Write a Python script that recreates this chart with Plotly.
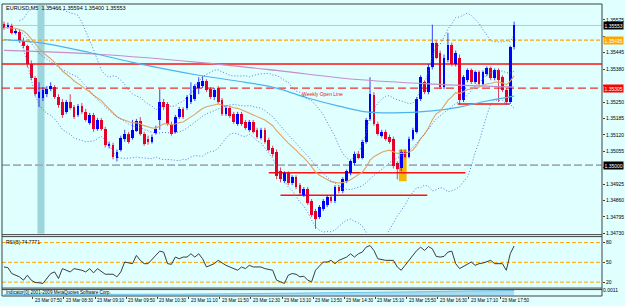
import numpy as np
import pandas as pd
import plotly.graph_objects as go

# ---------------- data ----------------
header_text = "EURUSD,M5  1.35466 1.35594 1.35400 1.35553"
rsi_text = "RSI(5) 74.7771"
sub_text = "Indicator(0) 2001-2009 MetaQuotes Software Corp."

opens = [
1.35560,1.35548,1.35552,1.35524,1.35528,1.35493,1.35470,1.35399,1.35344,1.35266,
1.35266,1.35281,1.35301,1.35309,1.35270,1.35250,1.35211,1.35250,1.35230,1.35199,
1.35234,1.35211,1.35168,1.35199,1.35144,1.35179,1.35144,1.35074,1.35081,1.35027,
1.35062,1.35105,1.35125,1.35109,1.35136,1.35176,1.35125,1.35105,1.35093,1.35128,
1.35179,1.35250,1.35242,1.35164,1.35132,1.35191,1.35223,1.35227,1.35250,1.35262,
1.35305,1.35313,1.35332,1.35301,1.35270,1.35305,1.35258,1.35203,1.35227,1.35203,
1.35164,1.35203,1.35172,1.35140,1.35172,1.35140,1.35109,1.35140,1.35101,1.35070,
1.35054,1.34976,1.34936,1.34968,1.34929,1.34952,1.34921,1.34881,1.34905,1.34858,
1.34819,1.34795,1.34827,1.34842,1.34874,1.34858,1.34913,1.34897,1.34936,1.34968,
1.35007,1.35046,1.35030,1.35093,1.35183,1.35277,1.35164,1.35117,1.35132,1.35113,
1.35105,1.35007,1.34987,1.35054,1.35034,1.35105,1.35132,1.35262,1.35328,1.35289,
1.35387,1.35485,1.35446,1.35309,1.35415,1.35477,1.35399,1.35426,1.35258,1.35336,
1.35375,1.35328,1.35368,1.35321,1.35360,1.35383,1.35344,1.35375,1.35348,1.35297,
1.35250,1.35466]

highs = [
1.35568,1.35564,1.35560,1.35540,1.35536,1.35505,1.35477,1.35415,1.35352,1.35328,
1.35309,1.35313,1.35328,1.35317,1.35281,1.35262,1.35258,1.35281,1.35238,1.35242,
1.35246,1.35223,1.35207,1.35207,1.35187,1.35187,1.35152,1.35093,1.35089,1.35062,
1.35117,1.35140,1.35132,1.35179,1.35183,1.35191,1.35132,1.35117,1.35121,1.35156,
1.35301,1.35262,1.35250,1.35172,1.35199,1.35230,1.35230,1.35277,1.35328,1.35321,
1.35348,1.35352,1.35340,1.35309,1.35305,1.35313,1.35266,1.35234,1.35234,1.35211,
1.35211,1.35211,1.35179,1.35179,1.35179,1.35148,1.35148,1.35148,1.35109,1.35077,
1.35062,1.34991,1.34976,1.34976,1.34960,1.34960,1.34929,1.34913,1.34913,1.34866,
1.34827,1.34842,1.34866,1.34881,1.34881,1.34921,1.34921,1.34952,1.34983,1.35023,
1.35054,1.35054,1.35101,1.35187,1.35348,1.35289,1.35172,1.35140,1.35140,1.35121,
1.35113,1.35015,1.35062,1.35062,1.35113,1.35148,1.35270,1.35356,1.35336,1.35399,
1.35556,1.35493,1.35454,1.35438,1.35524,1.35485,1.35454,1.35438,1.35356,1.35383,
1.35383,1.35375,1.35375,1.35375,1.35391,1.35391,1.35383,1.35383,1.35356,1.35305,
1.35473,1.35568]

lows = [
1.35536,1.35540,1.35517,1.35517,1.35485,1.35462,1.35387,1.35336,1.35273,1.35230,
1.35254,1.35270,1.35293,1.35262,1.35227,1.35187,1.35203,1.35219,1.35183,1.35191,
1.35203,1.35172,1.35160,1.35132,1.35136,1.35136,1.35070,1.35066,1.35023,1.35015,
1.35054,1.35093,1.35085,1.35101,1.35132,1.35117,1.35077,1.35081,1.35085,1.35121,
1.35140,1.35219,1.35156,1.35117,1.35125,1.35183,1.35183,1.35219,1.35242,1.35254,
1.35281,1.35305,1.35289,1.35262,1.35258,1.35242,1.35195,1.35195,1.35187,1.35164,
1.35156,1.35156,1.35140,1.35132,1.35125,1.35105,1.35101,1.35085,1.35054,1.35034,
1.34944,1.34932,1.34929,1.34921,1.34921,1.34905,1.34878,1.34874,1.34842,1.34795,
1.34748,1.34787,1.34819,1.34834,1.34850,1.34850,1.34889,1.34889,1.34929,1.34960,
1.34999,1.35023,1.35023,1.35085,1.35176,1.35156,1.35117,1.35109,1.35097,1.35085,
1.34987,1.34944,1.34976,1.35027,1.35027,1.35097,1.35125,1.35254,1.35281,1.35281,
1.35379,1.35419,1.35301,1.35301,1.35407,1.35391,1.35391,1.35242,1.35250,1.35328,
1.35321,1.35321,1.35313,1.35313,1.35352,1.35336,1.35336,1.35250,1.35289,1.35238,
1.35242,1.35458]

closes = [
1.35544,1.35556,1.35524,1.35532,1.35493,1.35470,1.35399,1.35344,1.35281,1.35289,
1.35297,1.35301,1.35313,1.35270,1.35238,1.35199,1.35250,1.35227,1.35191,1.35234,
1.35211,1.35179,1.35199,1.35144,1.35179,1.35144,1.35081,1.35085,1.35034,1.35054,
1.35109,1.35125,1.35093,1.35140,1.35176,1.35125,1.35085,1.35093,1.35113,1.35144,
1.35250,1.35230,1.35164,1.35125,1.35191,1.35223,1.35191,1.35270,1.35277,1.35313,
1.35328,1.35332,1.35297,1.35270,1.35297,1.35250,1.35203,1.35227,1.35195,1.35172,
1.35203,1.35164,1.35148,1.35172,1.35132,1.35113,1.35140,1.35093,1.35062,1.35046,
1.34956,1.34944,1.34968,1.34929,1.34952,1.34913,1.34889,1.34905,1.34850,1.34803,
1.34787,1.34834,1.34858,1.34874,1.34858,1.34913,1.34897,1.34944,1.34976,1.35015,
1.35046,1.35030,1.35093,1.35179,1.35281,1.35164,1.35125,1.35132,1.35105,1.35093,
1.34995,1.34983,1.35054,1.35034,1.35105,1.35140,1.35262,1.35348,1.35289,1.35387,
1.35485,1.35426,1.35309,1.35426,1.35477,1.35399,1.35446,1.35258,1.35348,1.35375,
1.35328,1.35368,1.35321,1.35368,1.35383,1.35344,1.35375,1.35336,1.35297,1.35250,
1.35466,1.35553]

# slow moving averages (bar index -> value)
ma_blue_idx = [0, 9, 22, 33, 50, 62, 70, 78, 86, 93, 100, 110, 117, 124, 131]
ma_blue_val = [1.35497, 1.35485, 1.35446, 1.35407, 1.35356, 1.35328, 1.35305, 1.35266,
               1.35234, 1.35211, 1.35207, 1.35215, 1.35230, 1.35254, 1.35273]
ma_purple_idx = [0, 25, 50, 70, 90, 110, 131]
ma_purple_val = [1.35454, 1.35438, 1.35407, 1.35375, 1.35340, 1.35321, 1.35309]

rsi_idx = [0,1,2,4,5,6,7,8,9,10,12,13,14,15,17,18,20,21,22,23,24,26,28,29,30,31,33,34,35,36,
           37,39,40,41,42,43,44,45,46,47,48,49,50,51,52,54,55,57,58,60,61,62,63,64,66,67,69,70,
           71,72,73,74,75,76,77,78,79,80,82,83,84,85,86,87,88,89,90,91,92,93,94,95,96,98,100,
           101,102,103,104,106,107,108,109,110,111,112,113,114,115,116,117,119,120,121,122,123,
           125,126,127,128,129,130,131]
rsi_val = [43,42,33,28,23,30.5,23,19.5,19,18,33,35.5,25.5,40.5,35.5,40.5,38,35.5,40.5,34,
           40.5,32,32,28,35.5,50.5,48,60.5,53,48,48,60.5,67,65.5,48,47,58,55.5,58,58,
           63,58,63,55.5,43,48,53,45.5,43,38,43,40.5,45.5,43,43,40.5,38,23,20.5,18,
           30.5,33,32,28,29,23,20.5,38,50.5,50.5,53,48,53,55.5,58,63,58,63,65.5,73,
           75.5,68,55.5,53,53,43,38,45.5,53,68,73,68,74,70.5,59,58,59,65.5,67,48,
           40.5,48,50.5,45.5,48,49,53,48,48,48,38,63,74.78]
rsi_levels = [20, 50, 80]

sub_idx = [0, 15, 30, 45, 60, 75, 90, 105, 120, 131]
sub_val = [0.0002, 0.0002, 0.0003, 0.0003, 0.0004, 0.0005, 0.0006, 0.0008, 0.0010, 0.0011]

price_ticks = ["1.35575","1.35510","1.35445","1.35380","1.35315","1.35250","1.35185",
               "1.35120","1.35055","1.34990","1.34925","1.34860","1.34795","1.34730"]
time_label_idx = [0, 8, 16, 24, 32, 40, 48, 56, 64, 72, 80, 88, 96, 104, 112, 120, 128]
time_labels = ["23 Mar 2018","23 Mar 07:50","23 Mar 08:30","23 Mar 09:10","23 Mar 09:50",
               "23 Mar 10:30","23 Mar 11:10","23 Mar 11:50","23 Mar 12:30","23 Mar 13:10",
               "23 Mar 13:50","23 Mar 14:30","23 Mar 15:10","23 Mar 15:50","23 Mar 16:30",
               "23 Mar 17:10","23 Mar 17:50"]

bid_price = 1.35553
orange_level = 1.35495
red_level = 1.35400
weekly_open = 1.35305
round_level = 1.35000
short_levels = [(1.34970, 68, 118.5), (1.34881, 71, 108.7), (1.35242, 116.5, 129.8)]
band_idx = (8.6, 10.4)
box_idx = (101.4, 103.4)
box_price = (1.34936, 1.35062)

# ---------------- figure ----------------
W, H = 625, 306
ML, MR, MT, MB = 2, 19, 1, 10
PH = H - MT - MB

def yp(py):
    return 1 - (py - MT) / PH

n = len(closes)
assert len(opens) == n and len(highs) == n and len(lows) == n
idx = np.arange(n)
o = np.array(opens); h = np.array(highs); l = np.array(lows); c = np.array(closes)
up = c >= o
UPC = "#0000FF"
DNC = "#E3002B"
FONT = "Liberation Sans, Arial, sans-serif"

cs = pd.Series(closes)
ema20 = cs.ewm(span=20, adjust=False).mean()
bb_mid = cs.rolling(20, min_periods=5).mean()
bb_sd = cs.rolling(20, min_periods=5).std(ddof=0)
bb_up = bb_mid + 2 * bb_sd
bb_lo = bb_mid - 2 * bb_sd

fig = go.Figure()

# candle bodies
body_base = np.minimum(o, c)
body_h = np.maximum(np.abs(c - o), 0.000015)
fig.add_trace(go.Bar(x=idx, y=body_h, base=body_base, width=0.7,
                     marker=dict(color=[UPC if u else DNC for u in up], line=dict(width=0)),
                     yaxis="y", xaxis="x"))
# wicks
for mask, col in ((up, UPC), (~up, DNC)):
    xs, ys = [], []
    for i in idx[mask]:
        xs += [i, i, None]
        ys += [l[i], h[i], None]
    fig.add_trace(go.Scatter(x=xs, y=ys, mode="lines", line=dict(color=col, width=1),
                             opacity=0.75, yaxis="y", xaxis="x"))

# moving averages
fig.add_trace(go.Scatter(x=ma_purple_idx, y=ma_purple_val, mode="lines",
                         line=dict(color="#C88CC8", width=1.2, shape="spline")))
fig.add_trace(go.Scatter(x=ma_blue_idx, y=ma_blue_val, mode="lines",
                         line=dict(color="#4DB3EE", width=1.2, shape="spline")))
fig.add_trace(go.Scatter(x=idx, y=ema20, mode="lines", line=dict(color="#E0A468", width=1.1)))
for s in (bb_up, bb_mid, bb_lo):
    fig.add_trace(go.Scatter(x=idx, y=s, mode="lines",
                             line=dict(color="#5068D0", width=0.9, dash="1px,2px")))

# RSI
fig.add_trace(go.Scatter(x=rsi_idx, y=rsi_val, mode="lines", line=dict(color="#3C3C3C", width=1),
                         xaxis="x", yaxis="y2"))
# sub indicator
fig.add_trace(go.Scatter(x=sub_idx, y=sub_val, mode="lines", fill="tozeroy",
                         line=dict(color="#6EC3EA", width=1), fillcolor="rgba(140,205,240,0.7)",
                         xaxis="x", yaxis="y3"))

shapes = []
# background band and box
shapes.append(dict(type="rect", xref="x", yref="paper", x0=band_idx[0], x1=band_idx[1],
                   y0=yp(233), y1=yp(2), fillcolor="#9CD5DC", line=dict(width=0), layer="below"))
shapes.append(dict(type="rect", xref="x", yref="y", x0=box_idx[0], x1=box_idx[1],
                   y0=box_price[0], y1=box_price[1], fillcolor="#F2B705", line=dict(width=0),
                   layer="below"))
# level lines
def hline(y, color, width, dash=None, yref="y"):
    d = dict(type="line", xref="paper", x0=0, x1=1, yref=yref, y0=y, y1=y,
             line=dict(color=color, width=width), layer="below")
    if dash:
        d["line"]["dash"] = dash
    return d
shapes.append(hline(bid_price, "#C4C4C4", 1))
shapes.append(hline(orange_level, "#FFA500", 1.3, "4px,2px"))
shapes.append(hline(red_level, "#FF1010", 1.5))
shapes.append(hline(weekly_open, "#F03030", 1.3, "8px,4px"))
shapes.append(hline(round_level, "#A4ACBC", 1.6, "8px,3px"))
for lv, a, b in short_levels:
    shapes.append(dict(type="line", xref="x", yref="y", x0=a, x1=b, y0=lv, y1=lv,
                       line=dict(color="#FF1010", width=1.5), layer="below"))
for lv in rsi_levels:
    shapes.append(hline(lv, "#FFA500", 1, "4px,2px", yref="y2"))

# borders / separators
BC = "#404040"
for py in (1, 234, 236, 288, 289.5, 296):
    shapes.append(dict(type="line", xref="paper", yref="paper", x0=0, x1=1,
                       y0=yp(py), y1=yp(py), line=dict(color=BC, width=1)))
for xpp in (0, 1):
    shapes.append(dict(type="line", xref="paper", yref="paper", x0=xpp, x1=xpp,
                       y0=0, y1=1, line=dict(color=BC, width=1)))

ann = []
ann.append(dict(text=header_text, xref="paper", yref="paper", x=0.003, y=yp(5),
                xanchor="left", yanchor="middle", showarrow=False,
                font=dict(size=5.5, color="#000000", family=FONT)))
ann.append(dict(text=rsi_text, xref="paper", yref="paper", x=0.003, y=yp(241),
                xanchor="left", yanchor="middle", showarrow=False,
                font=dict(size=5, color="#000000", family=FONT)))
ann.append(dict(text=sub_text, xref="paper", yref="paper", x=0.003, y=yp(292.5),
                xanchor="left", yanchor="middle", showarrow=False,
                font=dict(size=4.6, color="#000000", family=FONT)))
ann.append(dict(text="Weekly Open Line", xref="x", yref="y", x=76, y=weekly_open,
                xanchor="left", yanchor="top", yshift=-1, showarrow=False,
                font=dict(size=5, color="#E02020", family=FONT)))
box_prices = [bid_price, orange_level, weekly_open, round_level]
for price, bg, fc in ((bid_price, "#000000", "#FFFFFF"), (orange_level, "#FFA500", "#FFFFFF"),
                      (weekly_open, "#FF0000", "#FFFFFF"), (round_level, "#000000", "#FFFFFF")):
    ann.append(dict(text=f"{price:.5f}", xref="paper", yref="y", x=1, y=price,
                    xanchor="left", yanchor="middle", xshift=1, showarrow=False,
                    bgcolor=bg, borderpad=0.5, font=dict(size=5, color=fc, family=FONT)))
for ti, tl in zip(time_label_idx, time_labels):
    ann.append(dict(text=tl, xref="x", yref="paper", x=ti - 0.6, y=yp(300.5),
                    xanchor="left", yanchor="middle", showarrow=False,
                    font=dict(size=4.6, color="#000000", family=FONT)))

tick_vals = [float(t) for t in price_ticks]
# labels hidden behind the coloured price boxes (as in the terminal)
tick_text = [t if min(abs(float(t) - b) for b in box_prices) > 0.0002 else "" for t in price_ticks]

fig.update_layout(
    width=W, height=H,
    margin=dict(l=ML, r=MR, t=MT, b=MB, pad=0),
    paper_bgcolor="#E0FFFF", plot_bgcolor="#E0FFFF",
    showlegend=False, bargap=0,
    font=dict(family=FONT, size=5, color="#000000"),
    shapes=shapes, annotations=ann,
    xaxis=dict(range=[-0.51, 153.57], domain=[0, 1], anchor="y3", showgrid=False,
               zeroline=False, showline=False, showticklabels=False,
               tickvals=[t - 0.6 for t in time_label_idx], ticks="outside", ticklen=2,
               tickcolor="#404040"),
    yaxis=dict(domain=[yp(233), yp(2)], range=[1.34729, 1.35634], side="right", anchor="x",
               showgrid=False, zeroline=False, showline=False, tickvals=tick_vals,
               ticktext=tick_text, ticks="outside", ticklen=2, tickcolor="#404040",
               tickfont=dict(size=5, family=FONT, color="#000000")),
    yaxis2=dict(domain=[yp(287), yp(237)], range=[12.5, 87.5], side="right", anchor="x",
                showgrid=False, zeroline=False, showline=False, tickvals=rsi_levels,
                ticktext=[str(v) for v in rsi_levels], ticks="outside", ticklen=2,
                tickcolor="#404040", tickfont=dict(size=5, family=FONT, color="#000000")),
    yaxis3=dict(domain=[yp(295.5), yp(290)], range=[0, 0.0012], side="right", anchor="x",
                showgrid=False, zeroline=False, showline=False, tickvals=[0.0011],
                ticktext=["0.0011"], ticks="", tickfont=dict(size=5, family=FONT, color="#000000")),
)

fig.write_html("out.html")
